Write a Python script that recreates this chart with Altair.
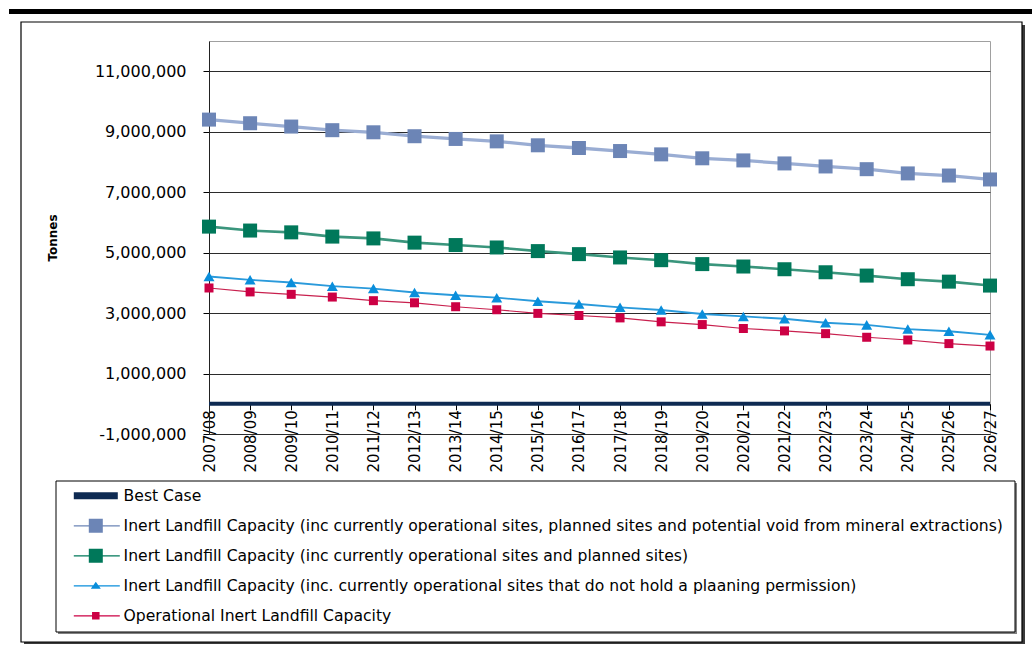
import altair as alt
import pandas as pd

# Financial years on the category axis
years = ["2007/08", "2008/09", "2009/10", "2010/11", "2011/12", "2012/13",
         "2013/14", "2014/15", "2015/16", "2016/17", "2017/18", "2018/19",
         "2019/20", "2020/21", "2021/22", "2022/23", "2023/24", "2024/25",
         "2025/26", "2026/27"]

series_names = [
    "Best Case",
    "Inert Landfill Capacity (inc currently operational sites, planned sites and potential void from mineral extractions)",
    "Inert Landfill Capacity (inc currently operational sites and planned sites)",
    "Inert Landfill Capacity (inc. currently operational sites that do not hold a plaaning permission)",
    "Operational Inert Landfill Capacity",
]

# Remaining capacity, tonnes
best_case = [0] * 20
capacity_with_mineral_void = [9400000, 9280000, 9170000, 9050000, 8980000, 8850000,
                              8760000, 8680000, 8550000, 8460000, 8360000, 8250000,
                              8120000, 8050000, 7950000, 7850000, 7760000, 7620000,
                              7550000, 7420000]
capacity_with_planned = [5860000, 5730000, 5670000, 5530000, 5470000, 5330000,
                         5250000, 5170000, 5050000, 4950000, 4840000, 4750000,
                         4620000, 4540000, 4450000, 4350000, 4240000, 4120000,
                         4040000, 3910000]
capacity_no_permission = [4210000, 4100000, 4010000, 3890000, 3810000, 3680000,
                          3590000, 3510000, 3390000, 3300000, 3190000, 3100000,
                          2970000, 2890000, 2810000, 2680000, 2610000, 2470000,
                          2400000, 2280000]
capacity_operational = [3830000, 3700000, 3620000, 3530000, 3410000, 3340000,
                        3210000, 3110000, 2990000, 2920000, 2840000, 2710000,
                        2620000, 2490000, 2410000, 2320000, 2200000, 2110000,
                        1990000, 1910000]

y_ticks = [-1000000, 1000000, 3000000, 5000000, 7000000, 9000000, 11000000]

# Styling
marker_colors = ["#0E2A52", "#6C85B6", "#00785A", "#0A8EDB", "#CC0044"]
line_colors = ["#0E2A52", "#9AADD3", "#3A957C", "#2A9ADB", "#C8204E"]
line_widths = [4, 1.2, 1.2, 1.2, 1.2]
marker_shapes = [None, "square", "square", "triangle-up", "square"]
marker_sizes = [0, 196, 196, 121, 81]
# legend keys: a short line with the marker sitting on it
legend_paths = [
    "M-8.4,-0.7H0.4V0.7H-8.4Z",
    "M-8.4,-0.13H0.8V0.13H-8.4Z M-5.4,-1.4H-2.6V1.4H-5.4Z",
    "M-8.4,-0.13H0.8V0.13H-8.4Z M-5.4,-1.4H-2.6V1.4H-5.4Z",
    "M-8.4,-0.13H0.8V0.13H-8.4Z M-4,-0.8L-3,0.6H-5Z",
    "M-8.4,-0.13H0.8V0.13H-8.4Z M-4.75,-0.75H-3.25V0.75H-4.75Z",
]

PLOT_W, PLOT_H = 781, 393
FONT = "DejaVu Sans"

rows = []
for name, vals in zip(series_names, [best_case, capacity_with_mineral_void,
                                     capacity_with_planned, capacity_no_permission,
                                     capacity_operational]):
    for yr, v in zip(years, vals):
        rows.append({"year": yr, "series": name, "tonnes": v})
df = pd.DataFrame(rows)

y_domain = [-1000000, 12000000]
zero_offset = -PLOT_H * (1000000 / (y_domain[1] - y_domain[0]))

x_enc = alt.X("year:O", sort=years, scale=alt.Scale(padding=0),
              axis=alt.Axis(offset=zero_offset, domain=False, grid=False,
                            ticks=True, tickSize=6, tickColor="black",
                            labelAngle=270, labelAlign="right", labelBaseline="middle",
                            labelFont=FONT, labelFontSize=15, labelColor="black",
                            labelPadding=0, title=None))
y_enc = alt.Y("tonnes:Q", scale=alt.Scale(domain=y_domain, nice=False, zero=False),
              axis=alt.Axis(values=y_ticks, format=",d",
                            labelExpr="replace(datum.label, '\u2212', '-')",
                            grid=True, gridColor="#2b2b2b",
                            gridWidth=1, domainColor="#222222", tickColor="black",
                            tickSize=6, labelFont=FONT, labelFontSize=16,
                            labelColor="black", labelPadding=17,
                            title="Tonnes", titleFont=FONT, titleFontSize=12,
                            titleFontWeight="bold", titleColor="black",
                            titleAngle=270, titleX=-157, titleY=PLOT_H / 2,
                            titleAlign="center", titleBaseline="middle"))

base = alt.Chart(df)

lines = base.mark_line().encode(
    x=x_enc, y=y_enc,
    color=alt.Color("series:N", scale=alt.Scale(domain=series_names, range=line_colors), legend=None),
    strokeWidth=alt.StrokeWidth("series:N", scale=alt.Scale(domain=series_names, range=line_widths), legend=None),
)

# one marker layer per capacity series
marker_layers = []
for name, shape, size, col in zip(series_names, marker_shapes, marker_sizes, marker_colors):
    if shape is None:
        continue
    marker_layers.append(
        base.transform_filter(alt.datum.series == name).mark_point(
            filled=True, opacity=1, strokeWidth=0, shape=shape, size=size, color=col
        ).encode(x=x_enc, y=y_enc)
    )

legend_props = dict(orient="none", legendX=-101, legendY=447, direction="vertical",
                    title=None, symbolSize=100, symbolStrokeWidth=0, symbolOpacity=1,
                    labelFont=FONT, labelFontSize=15.6, labelColor="black",
                    labelLimit=2000, labelOffset=0, rowPadding=13, padding=0)

legend_layer = alt.Chart(pd.DataFrame({"series": series_names})).mark_point(
    filled=True, opacity=1
).encode(
    x=alt.value(-3000), y=alt.value(-3000),
    color=alt.Color("series:N", sort=series_names,
                    scale=alt.Scale(domain=series_names, range=marker_colors),
                    legend=alt.Legend(**legend_props)),
    shape=alt.Shape("series:N", sort=series_names,
                    scale=alt.Scale(domain=series_names, range=legend_paths),
                    legend=alt.Legend(**legend_props)),
)

one = pd.DataFrame({"k": [0]})


def box(x1, y1, x2, y2, **style):
    # frame pieces, placed in pixels relative to the plot origin
    return alt.Chart(one).mark_rect(**style).encode(
        x=alt.value(x1), x2=alt.value(x2), y=alt.value(y1), y2=alt.value(y2))


decor = [
    box(-200, -32, 823, -27, color="black"),                      # heading rule
    box(813, -16, 816, 603, color="#3a3a3a"),                     # outer frame shadow
    box(-185, 601, 816, 603, color="#3a3a3a"),
    box(-188, -19, 813, 601, fillOpacity=0, stroke="black", strokeWidth=1.2),
    box(806, 442, 808, 593, color="#808080"),                     # legend shadow
    box(-151, 591, 808, 593, color="#808080"),
    box(-153, 440, 806, 591, fillOpacity=0, stroke="black", strokeWidth=1),
]

chart = alt.layer(
    *decor, lines, *marker_layers, legend_layer
).resolve_scale(
    color="independent", shape="independent", strokeWidth="independent"
).properties(
    width=PLOT_W, height=PLOT_H,
    autosize=alt.AutoSizeParams(type="none"),
    padding={"left": 209, "top": 41, "right": 1032 - 209 - PLOT_W, "bottom": 650 - 41 - PLOT_H},
    background="white",
).configure_view(
    stroke="#a0a0a0", strokeWidth=1
)

chart.save("out.html", embed_options={"renderer": "svg", "actions": False})
